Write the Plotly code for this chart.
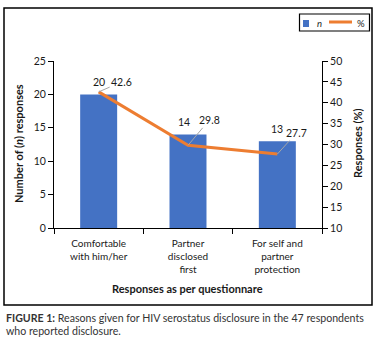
import plotly.graph_objects as go

categories = ["Comfortable<br>with him/her", "Partner<br>disclosed<br>first", "For self and<br>partner<br>protection"]
counts = [20, 14, 13]
percents = [42.6, 29.8, 27.7]
count_labels = ["20", "14", "13"]
percent_labels = ["42.6", "29.8", "27.7"]

BLUE = "#4472C4"
ORANGE = "#ED7D31"
TXT = "#1a1a1a"
FONT = "Lato"

L, R, T, B = 54, 58, 61, 125
W, H = 380, 353
PW, PH = W - L - R, H - T - B


def px(x):
    return (x - L) / PW


def py(y):
    return (H - B - y) / PH


fig = go.Figure()
fig.add_trace(go.Bar(x=categories, y=counts, marker=dict(color=BLUE, line=dict(width=0)),
                     name="n", showlegend=False, hoverinfo="skip"))
fig.add_trace(go.Scatter(x=categories, y=percents, yaxis="y2", mode="lines",
                         line=dict(color=ORANGE, width=3), name="%", showlegend=False,
                         hoverinfo="skip"))

ann = []
shifts = [0, -4, 0]
for c, v, t, s in zip(categories, counts, count_labels, shifts):
    ann.append(dict(x=c, y=v, xref="x", yref="y", text=t, showarrow=False,
                    xanchor="center", yanchor="middle",
                    yshift=12, xshift=s, font=dict(family=FONT, size=10.5, color=TXT)))
offs = [(23, -10), (21, -25), (19, -21)]
for c, v, t, (ax, ay) in zip(categories, percents, percent_labels, offs):
    ann.append(dict(x=c, y=v, xref="x", yref="y2", text=t, showarrow=True,
                    arrowhead=0, arrowwidth=1, arrowcolor="#A6A6A6", ax=ax, ay=ay,
                    font=dict(family=FONT, size=10.5, color=TXT)))


def label(x, y, text, size, anchor="center", angle=0, color=TXT):
    ann.append(dict(x=px(x), y=py(y), xref="paper", yref="paper", text=text,
                    showarrow=False, xanchor=anchor, yanchor="middle", textangle=angle,
                    font=dict(family=FONT, size=size, color=color)))


label(18, 144, "<b>Number of (<i>n</i>) responses</b>", 11, angle=-90)
label(357, 144, "<b>Responses (%)</b>", 11, angle=-90)
label(187, 288, "<b>Responses as per questionnare</b>", 11)
label(315, 23.5, "<i>n</i>", 9.5, anchor="left")
label(355, 23, "%", 9.5, anchor="left")
label(4, 318, "<b>FIGURE 1:</b> Reasons given for HIV serostatus disclosure in the 47 respondents",
      10.6, anchor="left", color="#333333")
label(4, 331, "who reported disclosure.", 10.6, anchor="left", color="#333333")

shapes = [
    dict(type="rect", xref="paper", yref="paper", x0=px(4), x1=px(372), y0=py(305), y1=py(8),
         line=dict(color="black", width=1.5), fillcolor="rgba(0,0,0,0)", layer="below"),
    dict(type="rect", xref="paper", yref="paper", x0=px(299.5), x1=px(369.5), y0=py(31), y1=py(14),
         line=dict(color="black", width=1.2), fillcolor="white", layer="below"),
    dict(type="rect", xref="paper", yref="paper", x0=px(303), x1=px(309), y0=py(27), y1=py(20),
         line=dict(width=0), fillcolor=BLUE),
    dict(type="line", xref="paper", yref="paper", x0=px(329), x1=px(352), y0=py(22), y1=py(22),
         line=dict(color=ORANGE, width=3)),
]

fig.update_layout(
    width=W, height=H, margin=dict(l=L, r=R, t=T, b=B),
    paper_bgcolor="white", plot_bgcolor="white",
    font=dict(family=FONT, size=10, color=TXT),
    bargap=0.586, showlegend=False, hovermode=False,
    xaxis=dict(showline=True, linecolor="black", linewidth=1, ticks="outside",
               tickson="boundaries", ticklen=5, tickcolor="black", showgrid=False,
               ticklabelstandoff=6,
               tickfont=dict(family=FONT, size=10, color=TXT)),
    yaxis=dict(range=[0, 25], dtick=5, showline=True, linecolor="black", linewidth=1,
               ticks="outside", ticklen=5, tickcolor="black", showgrid=False, zeroline=False,
               tickfont=dict(family=FONT, size=10.5, color=TXT)),
    yaxis2=dict(range=[10, 50], dtick=5, overlaying="y", side="right", showline=True,
                linecolor="black", linewidth=1, ticks="outside", ticklen=5, tickcolor="black",
                showgrid=False, zeroline=False, tickfont=dict(family=FONT, size=10.5, color=TXT)),
    annotations=ann, shapes=shapes,
)

fig.write_html("out.html", config={"displayModeBar": False},
               post_script="document.body.style.margin='0';document.body.style.overflow='hidden';")
